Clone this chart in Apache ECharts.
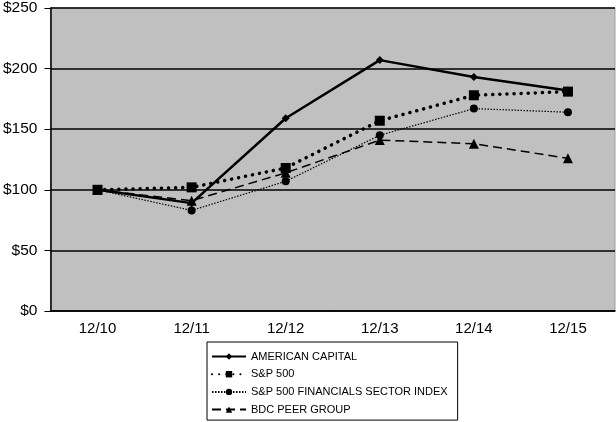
<!DOCTYPE html>
<html><head><meta charset="utf-8">
<script src="https://cdn.jsdelivr.net/npm/echarts@6/dist/echarts.min.js"></script>
<style>html,body{margin:0;padding:0;background:#fff}#c{width:616px;height:422px}</style>
</head><body><div id="c"></div>
<script>
const categories = ['12/10','12/11','12/12','12/13','12/14','12/15'];
const americanCapital = [100, 89, 159, 207, 193, 182];
const sp500 = [100, 102, 118, 157, 178, 181];
const spFinancials = [100, 83, 107, 145, 167, 164];
const bdcPeer = [100, 91, 114, 141, 138, 126];
const yTicks = [0, 50, 100, 150, 200, 250];

const font = '"Liberation Sans", Arial, sans-serif';
const chart = echarts.init(document.getElementById('c'), null, {renderer:'canvas'});
chart.setOption({
  animation: false,
  grid: {left: 50, right: 1, top: 8, bottom: 111, show: true, backgroundColor: '#c0c0c0', borderColor: '#a0a0a0', borderWidth: 1},
  xAxis: {
    type: 'category', data: categories, boundaryGap: true,
    axisLine: {lineStyle: {color: '#000', width: 1.5}},
    axisTick: {inside: true, length: 5, lineStyle: {color: '#000'}},
    axisLabel: {color: '#000', fontFamily: font, fontSize: 15, margin: 10}
  },
  yAxis: {
    type: 'value', min: yTicks[0], max: yTicks[yTicks.length-1], interval: 50,
    axisLine: {show: true, lineStyle: {color: '#000', width: 1.5}},
    axisTick: {show: true, length: 6, lineStyle: {color: '#000'}},
    axisLabel: {color: '#000', fontFamily: font, fontSize: 15.5, margin: 13, formatter: v => '$' + v},
    splitLine: {lineStyle: {color: '#000', width: 1.5}}
  },
  legend: {
    orient: 'vertical', left: 207, top: 342, width: 250, height: 80,
    borderColor: '#000', borderWidth: 1, padding: [9, 10, 5, 4],
    itemWidth: 34, itemHeight: 8, itemGap: 6.7,
    textStyle: {color: '#000', fontFamily: font, fontSize: 11},
    data: ['AMERICAN CAPITAL','S&P 500','S&P 500 FINANCIALS SECTOR INDEX','BDC PEER GROUP']
  },
  series: [
    {name: 'AMERICAN CAPITAL', type: 'line', data: americanCapital, symbol: 'diamond', symbolSize: 8,
     itemStyle: {color: '#000'}, lineStyle: {color: '#000', width: 2.5}, z: 5},
    {name: 'S&P 500', type: 'line', data: sp500, symbol: 'rect', symbolSize: 10,
     itemStyle: {color: '#000'}, lineStyle: {color: '#000', width: 3.5, type: [0.1, 7], cap: 'round'}, z: 4},
    {name: 'S&P 500 FINANCIALS SECTOR INDEX', type: 'line', data: spFinancials, symbol: 'circle', symbolSize: 8,
     itemStyle: {color: '#000'}, lineStyle: {color: '#000', width: 1.2, type: [1.5, 1.5]}, z: 3},
    {name: 'BDC PEER GROUP', type: 'line', data: bdcPeer, symbol: 'triangle', symbolSize: 10,
     itemStyle: {color: '#000'}, lineStyle: {color: '#000', width: 1.5, type: [9, 5]}, z: 2}
  ]
});
</script></body></html>
